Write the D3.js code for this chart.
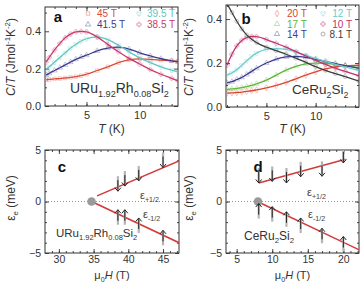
<!DOCTYPE html>
<html>
<head>
<meta charset="utf-8">
<script src="https://cdn.jsdelivr.net/npm/d3@7"></script>
<style>
  body { margin: 0; background: #fff; }
  svg { display: block; }
</style>
</head>
<body>
<svg width="362" height="284"></svg>
<script>
const FONT = '"Liberation Sans", Arial, sans-serif';

// panel a: URu1.92Rh0.08Si2, C/T vs T
const tempsA = [1.2, 1.5, 2, 2.5, 3, 3.5, 4, 4.5, 5, 6, 7, 8, 9, 10, 11, 12, 13, 13.6];
const fieldsA = ['45 T', '41.5 T', '39.5 T', '38.5 T'];
const ctA45 = [0.14, 0.142, 0.145, 0.147, 0.15, 0.153, 0.157, 0.162, 0.17, 0.19, 0.21, 0.232, 0.247, 0.252, 0.25, 0.246, 0.242, 0.24];
const ctA415 = [0.165, 0.175, 0.19, 0.205, 0.22, 0.235, 0.25, 0.262, 0.272, 0.295, 0.31, 0.315, 0.305, 0.285, 0.268, 0.253, 0.242, 0.236];
const ctA395 = [0.195, 0.21, 0.235, 0.26, 0.285, 0.31, 0.33, 0.348, 0.36, 0.37, 0.355, 0.325, 0.29, 0.258, 0.232, 0.21, 0.192, 0.183];
const ctA385 = [0.235, 0.26, 0.3, 0.335, 0.365, 0.385, 0.397, 0.4, 0.397, 0.37, 0.33, 0.29, 0.255, 0.225, 0.195, 0.17, 0.148, 0.135];

// panel b: CeRu2Si2, C/T vs T
const tempsB = [1, 1.5, 2, 2.5, 3, 3.5, 4, 5, 6, 7, 8, 9, 10, 11, 12, 13, 14.4];
const fieldsB = ['20 T', '17 T', '14 T', '12 T', '10 T', '8.1 T'];
const ctB20 = [0.063, 0.064, 0.066, 0.068, 0.071, 0.074, 0.078, 0.087, 0.098, 0.112, 0.128, 0.145, 0.16, 0.173, 0.182, 0.187, 0.19];
const ctB17 = [0.08, 0.082, 0.085, 0.088, 0.093, 0.098, 0.105, 0.122, 0.145, 0.168, 0.185, 0.196, 0.2, 0.199, 0.194, 0.188, 0.179];
const ctB14 = [0.11, 0.115, 0.125, 0.135, 0.148, 0.162, 0.176, 0.2, 0.218, 0.228, 0.23, 0.226, 0.217, 0.207, 0.197, 0.188, 0.176];
const ctB12 = [0.145, 0.155, 0.17, 0.19, 0.21, 0.23, 0.245, 0.262, 0.266, 0.262, 0.25, 0.236, 0.221, 0.207, 0.194, 0.182, 0.165];
const ctB10 = [0.19, 0.24, 0.278, 0.303, 0.316, 0.321, 0.32, 0.307, 0.29, 0.272, 0.252, 0.232, 0.212, 0.194, 0.177, 0.162, 0.142];
const ctB81 = [0.47, 0.43, 0.39, 0.355, 0.328, 0.308, 0.293, 0.272, 0.256, 0.24, 0.222, 0.203, 0.184, 0.167, 0.152, 0.138, 0.118];

// panel c: URu1.92Rh0.08Si2, Zeeman levels
const fieldsC = [38.5, 39.5, 41.5, 45];
const upperC = [1.0, 1.5, 2.0, 3.3];
const lowerC = [-0.8, -0.8, -1.6, -2.8];
const fitUpperC = [[35.5, 0.55], [47.3, 3.95]];
const fitLowerC = [[34.7, 0], [47.3, -4.0]];
const originC = [34.7, 0];

// panel d: CeRu2Si2, Zeeman levels
const fieldsD = [8.1, 10, 12, 14, 17, 20];
const upperD = [1.8, 1.95, 1.8, 2.4, 2.45, 3.75];
const lowerD = [-0.2, -0.5, -1.0, -1.6, -2.6, -3.4];
const fitUpperD = [[8.1, 1.8], [20.3, 4.1]];
const fitLowerD = [[7.9, 0], [22.4, -4.75]];
const originD = [8, 0];

const svg = d3.select('svg');

function richText(parent, parts, x, y, size, attrs) {
  const t = parent.append('text')
      .attr('x', x).attr('y', y)
      .attr('font-family', FONT)
      .attr('font-size', size);
  Object.entries(attrs || {}).forEach(([k, v]) => t.attr(k, v));
  let shift = 0;
  parts.forEach(([str, kind]) => {
    const want = kind === 'sub' ? size * 0.28 : kind === 'sup' ? -size * 0.38 : 0;
    const span = t.append('tspan').text(str).attr('dy', want - shift);
    if (kind === 'sub' || kind === 'sup') span.attr('font-size', size * 0.65);
    if (kind === 'i') span.attr('font-style', 'italic');
    shift = want;
  });
  return t;
}

function makePanel(p) {
  const x = d3.scaleLinear().domain(p.xDomain).range([p.x0, p.x1]);
  const y = d3.scaleLinear().domain(p.yDomain).range([p.y1, p.y0]);
  const g = svg.append('g');
  g.append('clipPath').attr('id', 'clip-' + p.name)
    .append('rect')
      .attr('x', p.x0).attr('y', p.y0)
      .attr('width', p.x1 - p.x0).attr('height', p.y1 - p.y0);

  const sides = [
    {axis: () => d3.axisBottom(x), at: `translate(0,${p.y1})`, major: p.xMajor, minor: p.xMinor, fmt: p.xFmt, pad: p.xPad},
    {axis: () => d3.axisTop(x), at: `translate(0,${p.y0})`, major: p.xMajor, minor: p.xMinor, fmt: null},
    {axis: () => d3.axisLeft(y), at: `translate(${p.x0},0)`, major: p.yMajor, minor: p.yMinor, fmt: p.yFmt, pad: 4},
    {axis: () => d3.axisRight(y), at: `translate(${p.x1},0)`, major: p.yMajor, minor: p.yMinor, fmt: null}
  ];
  sides.forEach(s => {
    g.append('g')
        .attr('transform', s.at)
        .call(s.axis().tickValues(s.minor).tickSize(-2).tickSizeOuter(0).tickFormat(''))
        .call(a => a.select('.domain').remove());
    g.append('g')
        .attr('transform', s.at)
        .attr('class', 'major')
        .call(s.axis().tickValues(s.major).tickSize(-4).tickSizeOuter(0)
            .tickPadding(s.pad || 0)
            .tickFormat(s.fmt ? d3.format(s.fmt) : ''))
        .call(a => a.select('.domain').remove());
  });
  g.selectAll('.tick line').attr('stroke', '#333').attr('stroke-width', 0.9);
  g.selectAll('g').attr('font-family', FONT).attr('font-size', p.tickFont);
  g.selectAll('.tick text').attr('fill', '#333');

  g.append('rect')
      .attr('x', p.x0).attr('y', p.y0)
      .attr('width', p.x1 - p.x0).attr('height', p.y1 - p.y0)
      .attr('fill', 'none').attr('stroke', '#333').attr('stroke-width', 1);

  const plot = g.append('g').attr('clip-path', `url(#clip-${p.name})`);
  return {g, plot, x, y};
}

function panelLetter(g, letter, x, y) {
  g.append('text').attr('x', x).attr('y', y)
      .attr('font-family', FONT).attr('font-size', 15).attr('font-weight', 'bold')
      .attr('fill', '#111').attr('text-anchor', 'middle').text(letter);
}

// ---------- C/T panels ----------
function drawCurves(panel, temps, series) {
  const line = d3.line()
      .x((d, i) => panel.x(temps[i]))
      .y(d => panel.y(d))
      .curve(d3.curveMonotoneX);
  series.forEach(s => {
    panel.plot.append('g').selectAll('path')
        .data(s.values)
        .join('path')
        .attr('transform', (d, i) => `translate(${panel.x(temps[i])},${panel.y(d)})`)
        .attr('d', d3.symbol(s.symbol, 12))
        .attr('fill', 'none')
        .attr('stroke', s.color)
        .attr('stroke-opacity', 0.35)
        .attr('stroke-width', 0.8);
  });
  series.forEach(s => {
    panel.plot.append('path')
        .attr('d', line(s.values))
        .attr('fill', 'none')
        .attr('stroke', s.color)
        .attr('stroke-width', 1.3);
  });
}

function drawLegend(g, series, cols) {
  series.forEach((s, i) => {
    const c = cols[s.col];
    const yy = cols.rows[s.row];
    g.append('path')
        .attr('transform', `translate(${c.sym},${yy - 3.5})`)
        .attr('d', d3.symbol(s.symbol, 12))
        .attr('fill', 'none').attr('stroke', s.color)
        .attr('stroke-opacity', 0.5).attr('stroke-width', 0.8);
    g.append('text')
        .attr('x', c.text).attr('y', yy)
        .attr('text-anchor', c.anchor)
        .attr('font-family', FONT).attr('font-size', 10)
        .attr('fill', s.color).text(s.label);
  });
}

const pA = makePanel({
  name: 'a', x0: 45, x1: 178, y0: 7, y1: 106,
  xDomain: [1.1, 13.6], yDomain: [0, 0.53],
  xMajor: [5, 10], xMinor: d3.range(2, 14), xFmt: 'd', xPad: 5, tickFont: 11,
  yMajor: [0, 0.2, 0.4], yMinor: [0.1, 0.3, 0.5], yFmt: '.1f'
});
const seriesA = [
  {label: fieldsA[0], values: ctA45, color: '#dc4a36', symbol: d3.symbolSquare, col: 0, row: 0},
  {label: fieldsA[1], values: ctA415, color: '#3b3b8e', symbol: d3.symbolTriangle, col: 0, row: 1},
  {label: fieldsA[2], values: ctA395, color: '#5fc6c2', symbol: d3.symbolWye, col: 1, row: 0},
  {label: fieldsA[3], values: ctA385, color: '#c83a6c', symbol: d3.symbolCross, col: 1, row: 1}
];
drawCurves(pA, tempsA, seriesA);
drawLegend(pA.g, seriesA, {0: {sym: 88, text: 97, anchor: 'start'}, 1: {sym: 139, text: 147, anchor: 'start'}, rows: [17, 28]});
panelLetter(pA.g, 'a', 58, 22);
richText(pA.g, [['URu'], ['1.92', 'sub'], ['Rh'], ['0.08', 'sub'], ['Si'], ['2', 'sub']], 70, 93, 14, {fill: '#333'});

const pB = makePanel({
  name: 'b', x0: 226, x1: 359, y0: 5, y1: 107,
  xDomain: [0.9, 14.4], yDomain: [0, 0.464],
  xMajor: [5, 10], xMinor: d3.range(1, 15), xFmt: 'd', xPad: 5, tickFont: 11,
  yMajor: [0, 0.2, 0.4], yMinor: [0.1, 0.3], yFmt: '.1f'
});
const seriesB = [
  {label: fieldsB[0], values: ctB20, color: '#d9452f', symbol: d3.symbolDiamond, col: 0, row: 0},
  {label: fieldsB[1], values: ctB17, color: '#62b33a', symbol: d3.symbolTriangle, col: 0, row: 1},
  {label: fieldsB[2], values: ctB14, color: '#3a3a8f', symbol: d3.symbolTriangle, col: 0, row: 2},
  {label: fieldsB[3], values: ctB12, color: '#6ccdcd', symbol: d3.symbolWye, col: 1, row: 0},
  {label: fieldsB[4], values: ctB10, color: '#c2306f', symbol: d3.symbolCross, col: 1, row: 1},
  {label: fieldsB[5], values: ctB81, color: '#3d3d3d', symbol: d3.symbolCircle, col: 1, row: 2}
];
drawCurves(pB, tempsB, seriesB);
drawLegend(pB.g, seriesB, {0: {sym: 277, text: 287, anchor: 'start'}, 1: {sym: 323, text: 352, anchor: 'end'}, rows: [17, 27.5, 37.5]});
panelLetter(pB.g, 'b', 246, 24);
richText(pB.g, [['CeRu'], ['2', 'sub'], ['Si'], ['2', 'sub']], 292, 94, 13.5, {fill: '#333'});

[pA, pB].forEach(p => {
  const cx = (p.x.range()[0] + p.x.range()[1]) / 2;
  richText(p.g, [['T', 'i'], [' (K)']], cx, 133, 12, {'text-anchor': 'middle', fill: '#333'});
});
richText(svg, [['C', 'i'], ['/'], ['T', 'i'], [' (Jmol'], ['-1', 'sup'], ['K'], ['-2', 'sup'], [')']], 0, 0, 12,
    {'text-anchor': 'middle', fill: '#333', transform: 'translate(15,57) rotate(-90)'});
richText(svg, [['C', 'i'], ['/'], ['T', 'i'], [' (Jmol'], ['-1', 'sup'], ['K'], ['-2', 'sup'], [')']], 0, 0, 12,
    {'text-anchor': 'middle', fill: '#333', transform: 'translate(193,57) rotate(-90)'});

// ---------- energy panels ----------
function drawArrows(panel, fields, heads, dir) {
  // dir = 1: arrow points down (head at bottom), dir = -1: points up
  const len = 11;
  fields.forEach((f, i) => {
    const px = panel.x(f);
    const py = panel.y(heads[i]);
    panel.plot.append('line')
        .attr('x1', px).attr('x2', px)
        .attr('y1', py - dir * 2).attr('y2', py - dir * (len + 4))
        .attr('stroke', '#b5b5b5').attr('stroke-width', 2.2);
    panel.plot.append('line')
        .attr('x1', px).attr('x2', px)
        .attr('y1', py).attr('y2', py - dir * len)
        .attr('stroke', '#222').attr('stroke-width', 1);
    panel.plot.append('path')
        .attr('d', `M${px - 3},${py - dir * 3.5}L${px},${py}L${px + 3},${py - dir * 3.5}`)
        .attr('fill', 'none').attr('stroke', '#222').attr('stroke-width', 1);
  });
}

function drawLevels(panel, p, d) {
  panel.plot.append('line')
      .attr('x1', p.x0).attr('x2', p.x1)
      .attr('y1', panel.y(0)).attr('y2', panel.y(0))
      .attr('stroke', '#888').attr('stroke-width', 0.9)
      .attr('stroke-dasharray', '1,2');
  const line = d3.line().x(v => panel.x(v[0])).y(v => panel.y(v[1]));
  [d.fitUpper, d.fitLower].forEach(fit => {
    panel.plot.append('path').attr('d', line(fit))
        .attr('fill', 'none').attr('stroke', '#d23a3a').attr('stroke-width', 1.5);
  });
  panel.plot.append('circle')
      .attr('cx', panel.x(d.origin[0])).attr('cy', panel.y(d.origin[1]))
      .attr('r', 4.3).attr('fill', '#9a9a9a');
  drawArrows(panel, d.fields, d.upper, 1);
  drawArrows(panel, d.fields, d.lower, -1);
}

const pC = makePanel({
  name: 'c', x0: 45, x1: 179, y0: 150, y1: 253,
  xDomain: [28, 47.3], yDomain: [-5, 5],
  xMajor: [30, 35, 40, 45], xMinor: d3.range(29, 48), xFmt: 'd', xPad: 3, tickFont: 10.5,
  yMajor: [-5, 0, 5], yMinor: d3.range(-4, 5), yFmt: 'd'
});
drawLevels(pC, {x0: 45, x1: 179}, {fitUpper: fitUpperC, fitLower: fitLowerC, origin: originC,
  fields: fieldsC, upper: upperC, lower: lowerC});
panelLetter(pC.g, 'c', 62, 172);
richText(pC.g, [['URu'], ['1.92', 'sub'], ['Rh'], ['0.08', 'sub'], ['Si'], ['2', 'sub']], 56, 237, 11.5, {fill: '#333'});

const pD = makePanel({
  name: 'd', x0: 226, x1: 359, y0: 150, y1: 253,
  xDomain: [3.5, 22.2], yDomain: [-5, 5],
  xMajor: [5, 10, 15, 20], xMinor: d3.range(4, 23), xFmt: 'd', xPad: 3, tickFont: 10.5,
  yMajor: [-5, 0, 5], yMinor: d3.range(-4, 5), yFmt: 'd'
});
drawLevels(pD, {x0: 226, x1: 359}, {fitUpper: fitUpperD, fitLower: fitLowerD, origin: originD,
  fields: fieldsD, upper: upperD, lower: lowerD});
panelLetter(pD.g, 'd', 258, 172);
richText(pD.g, [['CeRu'], ['2', 'sub'], ['Si'], ['2', 'sub']], 244, 240, 12, {fill: '#333'});

// level labels
[[pC.g, 140, 199, '+1/2'], [pC.g, 143, 218, '-1/2'], [pD.g, 307, 196, '+1/2'], [pD.g, 308, 218, '-1/2']]
  .forEach(([g, lx, ly, s]) => richText(g, [['ε'], [s, 'sub']], lx, ly, 11, {fill: '#444'}));

[pC, pD].forEach(p => {
  const cx = (p.x.range()[0] + p.x.range()[1]) / 2;
  richText(p.g, [['μ'], ['0', 'sub'], ['H', 'i'], [' (T)']], cx, 278.5, 11, {'text-anchor': 'middle', fill: '#333'});
});
richText(svg, [['ε'], ['e', 'sub'], [' (meV)']], 0, 0, 12,
    {'text-anchor': 'middle', fill: '#333', transform: 'translate(15,198) rotate(-90)'});
richText(svg, [['ε'], ['e', 'sub'], [' (meV)']], 0, 0, 12,
    {'text-anchor': 'middle', fill: '#333', transform: 'translate(193,198) rotate(-90)'});
</script>
</body>
</html>
